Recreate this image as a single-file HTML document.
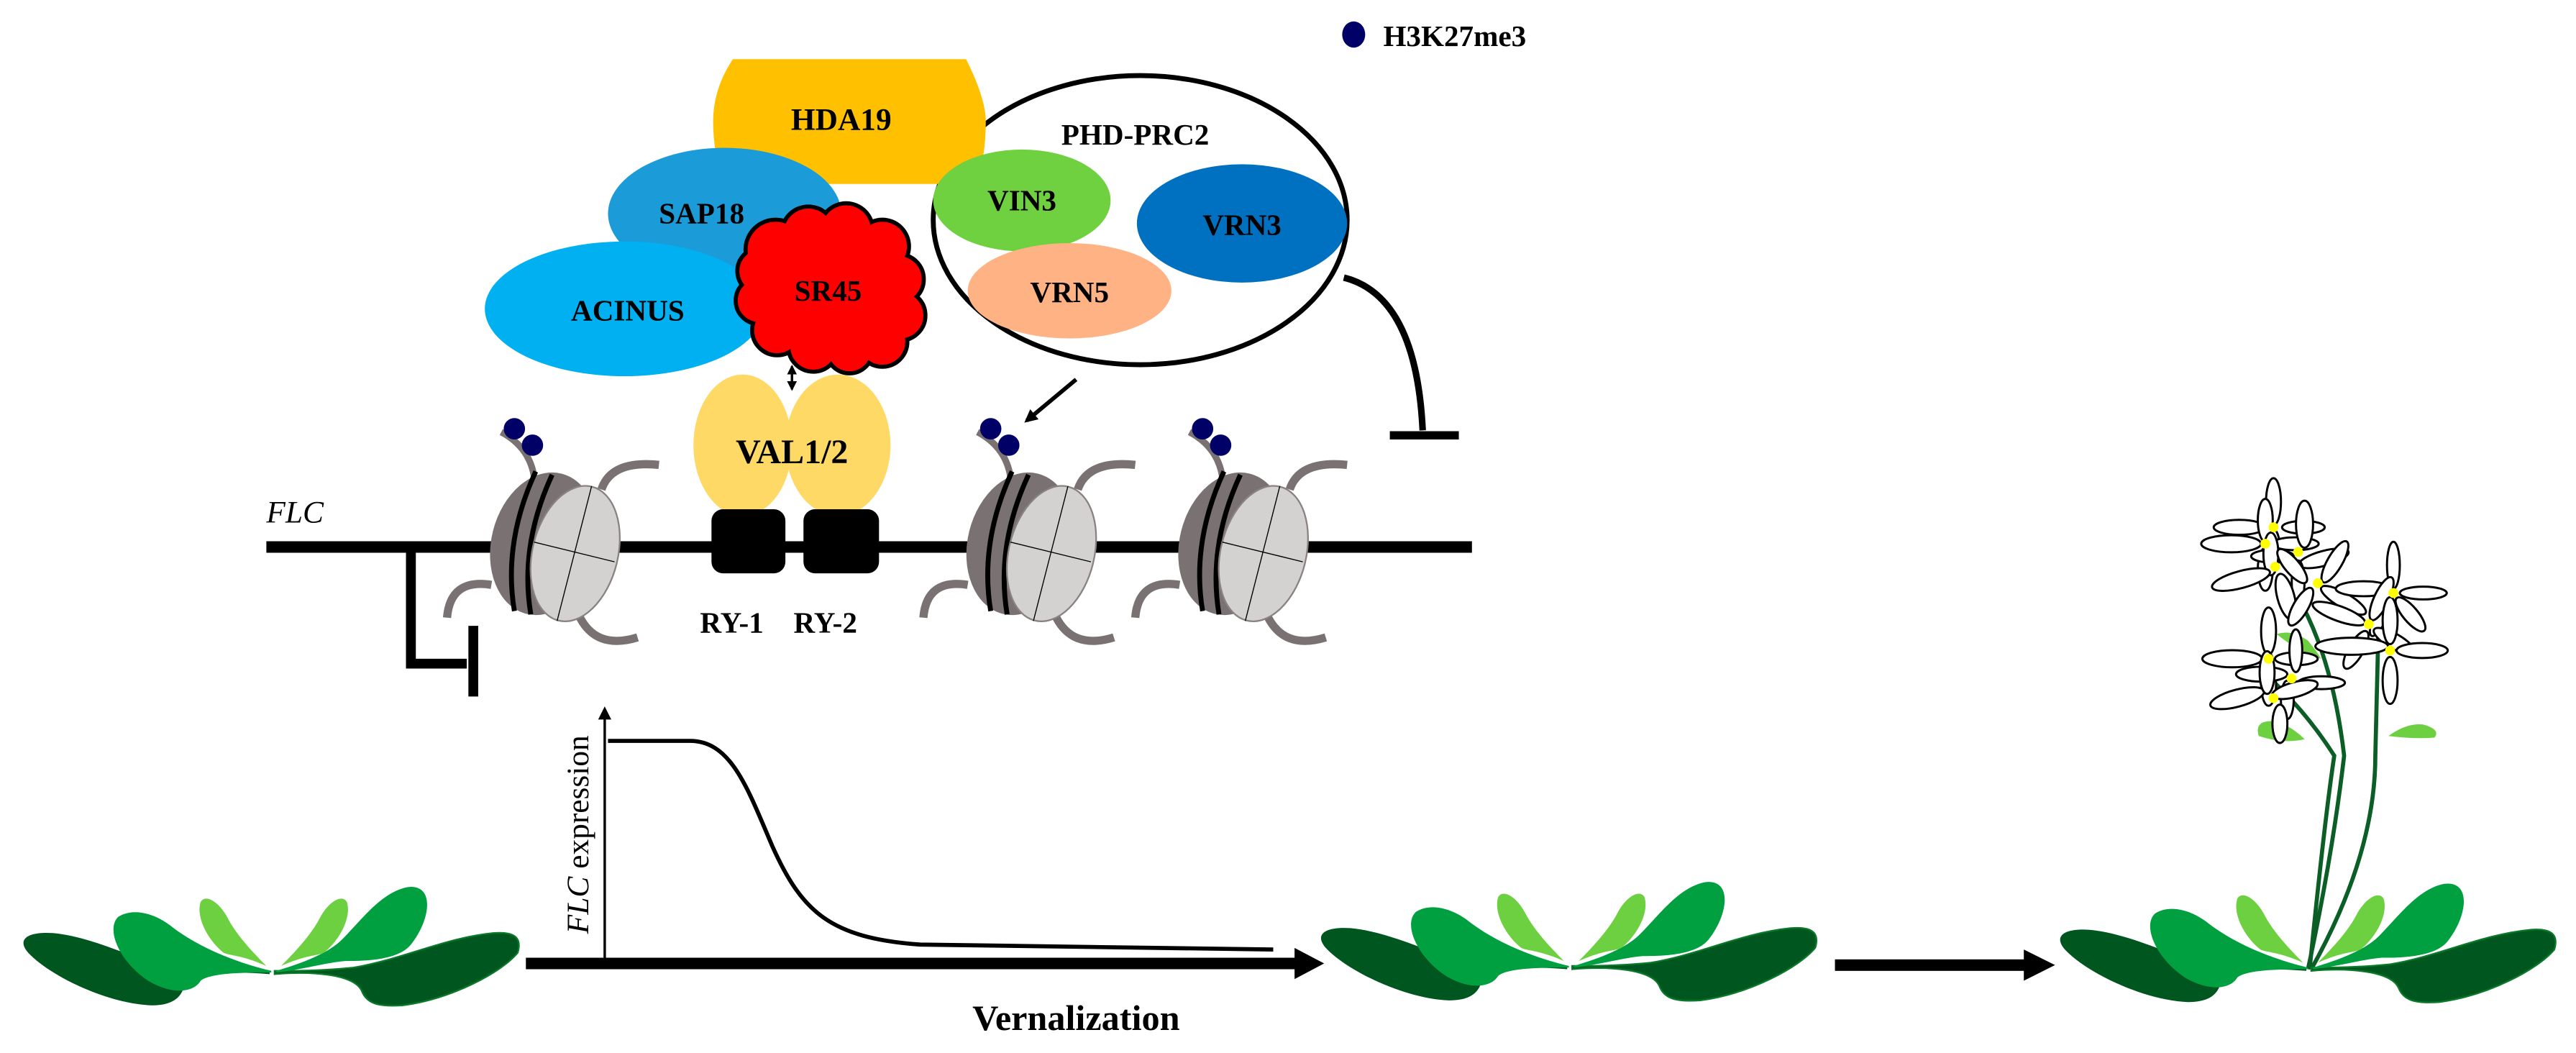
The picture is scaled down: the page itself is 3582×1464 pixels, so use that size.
<!DOCTYPE html>
<html><head><meta charset="utf-8"><style>
html,body{margin:0;padding:0;background:#fff;}
svg{display:block;}
text{font-family:"Liberation Serif",serif;}
</style></head><body>
<svg width="3582" height="1464" viewBox="0 0 1568 641" xmlns="http://www.w3.org/2000/svg">
<defs>
<marker id="ah" markerWidth="8" markerHeight="8" refX="6" refY="4" orient="auto" markerUnits="userSpaceOnUse"><path d="M0,0 L8,4 L0,8 Z" fill="#000"/></marker>
<marker id="ahs" markerWidth="6" markerHeight="6" refX="5" refY="3" orient="auto-start-reverse" markerUnits="userSpaceOnUse"><path d="M0,0 L6,3 L0,6 Z" fill="#000"/></marker>
<g id="nuc">
  <path d="M305,263 Q322,272 325,290" stroke="#7a7272" stroke-width="4" fill="none"/>
  <path d="M366,298 Q372,280 401,283" stroke="#7a7272" stroke-width="5" fill="none"/>
  <path d="M299,356 Q274,352 272,376" stroke="#7a7272" stroke-width="5" fill="none"/>
  <path d="M352,374 Q362,396 388,388" stroke="#7a7272" stroke-width="5" fill="none"/>
  <ellipse cx="331" cy="331" rx="32" ry="44" transform="rotate(14 331 331)" fill="#7a7272"/>
  <path d="M326,287 Q306,330 313,372" stroke="#000" stroke-width="3" fill="none"/>
  <path d="M336,289 Q316,332 323,374" stroke="#000" stroke-width="3" fill="none"/>
  <ellipse cx="350" cy="337" rx="26" ry="42" transform="rotate(14 350 337)" fill="#d4d1d1" stroke="#8a8282" stroke-width="1"/>
  <line x1="360" y1="296" x2="339" y2="378" stroke="#000" stroke-width="0.6"/>
  <line x1="325" y1="330" x2="374" y2="342" stroke="#000" stroke-width="0.6"/>
  <circle cx="313" cy="261" r="6.5" fill="#000066"/>
  <circle cx="324" cy="271" r="6.5" fill="#000066"/>
</g>
<g id="ros">
  <path d="M164,593 C140,591 118,592 112,600 C110,608 104,612 92,612 C65,611 30,594 17,580 C10,572 16,567 32,568 C55,570 85,584 110,594 C130,592 150,591 164,591 Z" fill="#00561f"/>
  <path d="M167,593 C190,591 215,593 220,603 C223,611 230,613 245,612 C275,608 305,592 315,580 C318,570 312,567 300,568 C270,571 245,584 215,589 C195,591 180,591 167,591 Z" fill="#00561f" stroke="#0a7a2a" stroke-width="1"/>
  <path d="M165,591 C140,585 118,575 103,563 C92,555 80,553 72,558 C64,565 72,585 90,597 C105,606 118,604 122,597 C128,592 150,592 165,592 Z" fill="#00a040"/>
  <path d="M168,591 C185,586 200,580 208,572 C220,560 232,543 248,540 C265,538 262,560 250,575 C242,585 220,585 210,585 C198,586 185,590 168,592 Z" fill="#00a040"/>
  <path d="M162,588 C152,578 143,568 138,558 C133,549 125,544 122,549 C119,558 126,572 136,580 C140,582 146,581 162,588 Z" fill="#6dd040"/>
  <path d="M171,588 C181,578 190,568 195,558 C200,549 208,544 211,549 C214,558 207,572 197,580 C193,582 187,581 171,588 Z" fill="#6dd040"/>
</g>
</defs>

<ellipse cx="824" cy="21" rx="7" ry="8" fill="#000066"/>
<text x="842" y="28" font-size="18" font-weight="bold">H3K27me3</text>

<ellipse cx="694" cy="134" rx="126" ry="88" fill="#fff" stroke="#000" stroke-width="3"/>
<path d="M446,36 L588,36 Q600,60 600,74 Q600,96 594,112 L440,112 Q434,92 434,74 Q434,54 446,36 Z" fill="#ffc000"/>
<text x="512" y="79" font-size="19" font-weight="bold" text-anchor="middle">HDA19</text>
<text x="646" y="88" font-size="18" font-weight="bold">PHD-PRC2</text>
<ellipse cx="622" cy="122" rx="54" ry="31" fill="#6fd13f"/>
<text x="622" y="128" font-size="18" font-weight="bold" text-anchor="middle">VIN3</text>
<ellipse cx="756" cy="136" rx="64" ry="36" fill="#0070c0"/>
<text x="756" y="143" font-size="18" font-weight="bold" text-anchor="middle">VRN3</text>
<ellipse cx="651" cy="177" rx="62" ry="29" fill="#ffb384"/>
<text x="651" y="184" font-size="18" font-weight="bold" text-anchor="middle">VRN5</text>

<ellipse cx="441" cy="130" rx="71" ry="40" fill="#1b9cd8"/>
<ellipse cx="380" cy="188" rx="85" ry="41" fill="#00b0f0"/>
<text x="427" y="136" font-size="18" font-weight="bold" text-anchor="middle">SAP18</text>
<text x="382" y="195" font-size="18" font-weight="bold" text-anchor="middle">ACINUS</text>

<g stroke="#000" stroke-width="5" fill="#000">
<circle cx="472" cy="152" r="17"/><circle cx="492" cy="142" r="15"/><circle cx="515" cy="140" r="15"/><circle cx="537" cy="150" r="15"/><circle cx="547" cy="170" r="14"/><circle cx="548" cy="192" r="14"/><circle cx="537" cy="208" r="14"/><circle cx="517" cy="213" r="13"/><circle cx="495" cy="211" r="14"/><circle cx="473" cy="201" r="14"/><circle cx="462" cy="183" r="13"/><circle cx="463" cy="165" r="13"/>
</g>
<g fill="#ff0000">
<circle cx="472" cy="152" r="17"/><circle cx="492" cy="142" r="15"/><circle cx="515" cy="140" r="15"/><circle cx="537" cy="150" r="15"/><circle cx="547" cy="170" r="14"/><circle cx="548" cy="192" r="14"/><circle cx="537" cy="208" r="14"/><circle cx="517" cy="213" r="13"/><circle cx="495" cy="211" r="14"/><circle cx="473" cy="201" r="14"/><circle cx="462" cy="183" r="13"/><circle cx="463" cy="165" r="13"/>
<ellipse cx="505" cy="177" rx="40" ry="34"/>
</g>
<text x="504" y="183" font-size="18" font-weight="bold" text-anchor="middle">SR45</text>

<line x1="482" y1="223" x2="482" y2="237" stroke="#000" stroke-width="1.5" marker-start="url(#ahs)" marker-end="url(#ahs)"/>

<line x1="162" y1="333" x2="896" y2="333" stroke="#000" stroke-width="7"/>
<text x="162" y="318" font-size="19" font-style="italic">FLC</text>

<ellipse cx="452" cy="271" rx="30" ry="43" fill="#ffd966"/>
<ellipse cx="510" cy="271" rx="32" ry="43" fill="#ffd966"/>
<text x="482" y="282" font-size="21" font-weight="bold" text-anchor="middle">VAL1/2</text>
<rect x="433" y="310" width="45" height="39" rx="7" fill="#000"/>
<rect x="489" y="310" width="46" height="39" rx="7" fill="#000"/>
<text x="426" y="385" font-size="18" font-weight="bold">RY-1</text>
<text x="483" y="385" font-size="18" font-weight="bold">RY-2</text>

<path d="M250,336 L250,404 L284,404" stroke="#000" stroke-width="6" fill="none"/>
<line x1="288" y1="381" x2="288" y2="424" stroke="#000" stroke-width="6"/>

<use href="#nuc"/>
<use href="#nuc" x="290"/>
<use href="#nuc" x="419"/>

<line x1="655" y1="231" x2="625" y2="256" stroke="#000" stroke-width="2.5" marker-end="url(#ah)"/>
<path d="M818,169 Q862,180 866,262" stroke="#000" stroke-width="4" fill="none"/>
<line x1="846" y1="265" x2="888" y2="265" stroke="#000" stroke-width="5"/>

<line x1="368" y1="584" x2="368" y2="432" stroke="#000" stroke-width="1.5" marker-end="url(#ah)"/>
<path d="M370,451 L420,451 C445,451 455,480 470,515 C488,555 505,571 560,575 L775,578" stroke="#000" stroke-width="2.5" fill="none"/>
<text transform="translate(358,508) rotate(-90)" font-size="19" text-anchor="middle"><tspan font-style="italic">FLC</tspan> expression</text>
<rect x="320" y="583" width="470" height="7" fill="#000"/>
<path d="M788,577 L806,586.5 L788,596 Z" fill="#000"/>
<text x="655" y="627" font-size="22" font-weight="bold" text-anchor="middle">Vernalization</text>
<rect x="1117" y="584" width="117" height="7" fill="#000"/>
<path d="M1232,578 L1251,587.5 L1232,597 Z" fill="#000"/>

<use href="#ros"/>
<use href="#ros" x="790" y="-3"/>

<g stroke="#0a5e26" stroke-width="2.5" fill="none">
<path d="M1405,590 Q1420,520 1427,460 Q1420,400 1398,362"/>
<path d="M1407,590 Q1446,520 1446,460 L1448,378"/>
<path d="M1406,590 Q1415,500 1421,460 Q1405,435 1385,416"/>
</g>
<path d="M1375,448 Q1372,438 1385,439 Q1395,442 1403,450 Q1390,453 1375,448 Z" fill="#6dd040"/>
<path d="M1454,448 Q1465,440 1475,441 Q1486,444 1482,449 Q1470,450 1454,448 Z" fill="#6dd040"/>
<path d="M1386,386 Q1395,383 1405,390 Q1410,396 1413,401 Q1398,396 1386,386 Z" fill="#6dd040"/>
<use href="#ros" x="1240" y="-2"/>
<g fill="#fff" stroke="#000" stroke-width="1">
<g transform="translate(1384,321) scale(1.3)"><ellipse cx="0" cy="-12" rx="3.5" ry="11"/><ellipse cx="-16" cy="0" rx="12" ry="3.5"/><ellipse cx="14" cy="0" rx="10" ry="3"/><ellipse cx="0" cy="10" rx="3" ry="9"/></g>
<g transform="translate(1379,331) scale(1.3)"><ellipse cx="0" cy="-11" rx="3.5" ry="10"/><ellipse cx="-16" cy="0" rx="14" ry="4"/><ellipse cx="14" cy="0" rx="11" ry="3"/><ellipse cx="0" cy="12" rx="3.5" ry="10"/></g>
<g transform="translate(1399,336) scale(1.3)"><ellipse cx="3" cy="-13" rx="4" ry="11"/><ellipse cx="-12" cy="2" rx="10" ry="3"/><ellipse cx="12" cy="3" rx="12" ry="3.5" transform="rotate(-15 12 3)"/><ellipse cx="0" cy="14" rx="3" ry="10"/></g>
<g transform="translate(1385,345) scale(1.3)"><ellipse cx="-2" cy="-6" rx="3.5" ry="10"/><ellipse cx="-16" cy="6" rx="14" ry="4" transform="rotate(-15 -16 6)"/><ellipse cx="5" cy="14" rx="4" ry="11" transform="rotate(-15 5 14)"/></g>
<g transform="translate(1411,355) scale(1.3)"><ellipse cx="8" cy="-10" rx="3.5" ry="11" transform="rotate(30 8 -10)"/><ellipse cx="-12" cy="-8" rx="3.5" ry="10" transform="rotate(-40 -12 -8)"/><ellipse cx="12" cy="8" rx="12" ry="3.5" transform="rotate(30 12 8)"/><ellipse cx="-8" cy="11" rx="3.5" ry="10" transform="rotate(30 -8 11)"/></g>
<g transform="translate(1457,361) scale(1.3)"><ellipse cx="0" cy="-13" rx="3" ry="11"/><ellipse cx="-14" cy="-2" rx="13" ry="3.5"/><ellipse cx="14" cy="0" rx="11" ry="3"/><ellipse cx="-6" cy="11" rx="3" ry="10" transform="rotate(25 -6 11)"/><ellipse cx="8" cy="10" rx="3.5" ry="10" transform="rotate(-40 8 10)"/></g>
<g transform="translate(1442,380) scale(1.3)"><ellipse cx="-14" cy="-5" rx="13" ry="3.5" transform="rotate(20 -14 -5)"/><ellipse cx="6" cy="-12" rx="3.5" ry="11" transform="rotate(25 6 -12)"/><ellipse cx="-6" cy="12" rx="3.5" ry="10" transform="rotate(30 -6 12)"/><ellipse cx="12" cy="8" rx="11" ry="3.5" transform="rotate(30 12 8)"/></g>
<g transform="translate(1455,396) scale(1.3)"><ellipse cx="0" cy="-14" rx="3.5" ry="11"/><ellipse cx="-18" cy="-2" rx="17" ry="4"/><ellipse cx="15" cy="0" rx="12" ry="3.5"/><ellipse cx="0" cy="14" rx="3.5" ry="11"/></g>
<g transform="translate(1381,401) scale(1.3)"><ellipse cx="0" cy="-13" rx="3.5" ry="11"/><ellipse cx="-17" cy="0" rx="14" ry="4"/><ellipse cx="13" cy="0" rx="10" ry="3"/><ellipse cx="0" cy="12" rx="3.5" ry="10"/></g>
<g transform="translate(1395,413) scale(1.3)"><ellipse cx="2" cy="-13" rx="3" ry="10"/><ellipse cx="-14" cy="-2" rx="12" ry="3.5"/><ellipse cx="14" cy="2" rx="11" ry="3"/><ellipse cx="-2" cy="10" rx="3" ry="9"/></g>
<g transform="translate(1384,425) scale(1.3)"><ellipse cx="-17" cy="0" rx="13" ry="4" transform="rotate(-15 -17 0)"/><ellipse cx="10" cy="-4" rx="11" ry="3.5" transform="rotate(-15 10 -4)"/><ellipse cx="3" cy="12" rx="3.5" ry="9"/><ellipse cx="-3" cy="-12" rx="3.5" ry="10"/></g>
</g>
<g fill="#ffff00">
<circle cx="1384" cy="321" r="3"/><circle cx="1379" cy="331" r="3"/><circle cx="1399" cy="336" r="3"/><circle cx="1385" cy="345" r="3"/><circle cx="1411" cy="355" r="3"/><circle cx="1457" cy="361" r="3"/><circle cx="1442" cy="380" r="3"/><circle cx="1455" cy="396" r="3"/><circle cx="1381" cy="401" r="3"/><circle cx="1395" cy="413" r="3"/><circle cx="1384" cy="425" r="3"/>
</g>
</svg>
</body></html>
